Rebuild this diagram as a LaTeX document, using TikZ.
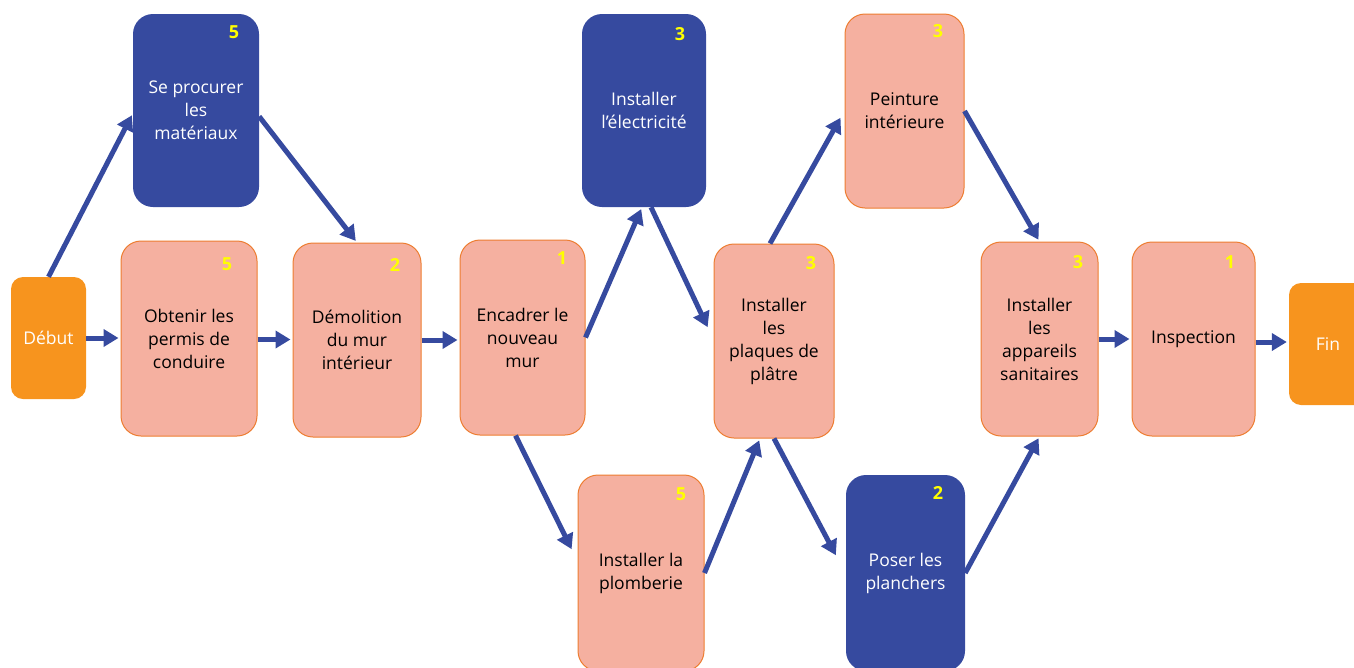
\documentclass[tikz,border=0pt]{standalone}
\usepackage{fontspec}
\setmainfont{Open Sans}
\usetikzlibrary{arrows.meta}
\definecolor{taskblue}{RGB}{54,74,159}
\definecolor{salmon}{RGB}{245,176,160}
\definecolor{salmonedge}{RGB}{237,125,49}
\definecolor{startorange}{RGB}{247,148,30}
\definecolor{arrowblue}{RGB}{54,74,159}
\definecolor{numyellow}{RGB}{255,255,0}
\tikzset{
  box/.style={rounded corners=20pt, align=center, inner sep=0pt,
    font=\fontsize{17.5}{23}\selectfont},
  salmonbox/.style={box, fill=salmon, draw=salmonedge, line width=1pt, text=black},
  bluebox/.style={box, fill=taskblue, text=white},
  endbox/.style={box, rounded corners=12pt, fill=startorange, text=white},
  durnum/.style={text=numyellow, font=\bfseries\fontsize{18}{18}\selectfont, inner sep=0pt},
  arr/.style={draw=arrowblue, line width=5pt, -{Triangle[length=15pt,width=17pt]}, shorten >=2pt}
}
\begin{document}
\begin{tikzpicture}[x=1pt,y=-1pt]
\useasboundingbox (0,0) rectangle (1354,667);
% nodes (centre, width, height in px)
\node[endbox, minimum width=75pt, minimum height=122pt] (debut) at (48.5,338) {Début};
\node[bluebox, minimum width=126pt, minimum height=193pt] (seproc) at (196,110.5) {Se procurer\\les\\matériaux};
\node[salmonbox, minimum width=136pt, minimum height=195pt] (obtenir) at (189,338.5) {Obtenir les\\permis de\\conduire};
\node[salmonbox, minimum width=128pt, minimum height=194pt] (demol) at (357,340) {Démolition\\du mur\\intérieur};
\node[salmonbox, minimum width=125pt, minimum height=195pt] (encadrer) at (522.5,337.5) {Encadrer le\\nouveau\\mur};
\node[bluebox, minimum width=124pt, minimum height=193pt] (elec) at (644,110.5) {Installer\\l’électricité};
\node[salmonbox, minimum width=120pt, minimum height=194pt] (plaques) at (774,341) {Installer\\les\\plaques de\\plâtre};
\node[salmonbox, minimum width=126pt, minimum height=196pt] (plomb) at (641,573) {Installer la\\plomberie};
\node[salmonbox, minimum width=119pt, minimum height=194pt] (peinture) at (904.5,111) {Peinture\\intérieure};
\node[bluebox, minimum width=119pt, minimum height=196pt] (planchers) at (905.5,573) {Poser les\\planchers};
\node[salmonbox, minimum width=117pt, minimum height=194pt] (sanit) at (1039.5,339) {Installer\\les\\appareils\\sanitaires};
\node[salmonbox, minimum width=123pt, minimum height=194pt] (inspect) at (1193.5,339) {Inspection};
\node[endbox, minimum width=78pt, minimum height=122pt] (fin) at (1328,344) {Fin};
% durations
\node[durnum] (d1) at (234,32) {5};
\node[durnum] (d2) at (227,264) {5};
\node[durnum] (d3) at (395,265) {2};
\node[durnum] (d4) at (562,258) {1};
\node[durnum] (d5) at (680,34) {3};
\node[durnum] (d6) at (811,263) {3};
\node[durnum] (d7) at (681,494) {5};
\node[durnum] (d8) at (938,31) {3};
\node[durnum] (d9) at (938,493) {2};
\node[durnum] (d10) at (1078,262) {3};
\node[durnum] (d11) at (1230,262) {1};
% connectors
\draw[arr] (debut.north) -- ([yshift=-3pt]seproc.west);
\draw[arr] ([yshift=-6pt]seproc.east) -- (demol.north);
\draw[arr] (debut.east) -- (debut.east -| obtenir.west);
\draw[arr] ([yshift=-1pt]obtenir.east) -- ([yshift=-1pt]obtenir.east -| demol.west);
\draw[arr] (demol.east) -- (demol.east -| encadrer.west);
\draw[arr] (encadrer.east) -- ([xshift=-2pt]elec.south);
\draw[arr] ([xshift=7pt]elec.south) -- ([xshift=-5pt,yshift=12pt]plaques.west);
\draw[arr] ([xshift=-7pt]encadrer.south) -- ([xshift=-5pt,yshift=22pt]plomb.west);
\draw[arr] (plomb.east) -- ([xshift=-14pt]plaques.south);
\draw[arr] ([xshift=-4pt]plaques.north) -- ([xshift=-3pt,yshift=-5pt]peinture.west);
\draw[arr] (plaques.south) -- ([xshift=-9pt,yshift=16pt]planchers.west);
\draw[arr] (peinture.east) -- (sanit.north);
\draw[arr] (planchers.east) -- (sanit.south);
\draw[arr] (sanit.east) -- (sanit.east -| inspect.west);
\draw[arr] ([yshift=-3pt]inspect.east) -- ([yshift=-3pt]inspect.east -| fin.west);
\end{tikzpicture}
\end{document}
